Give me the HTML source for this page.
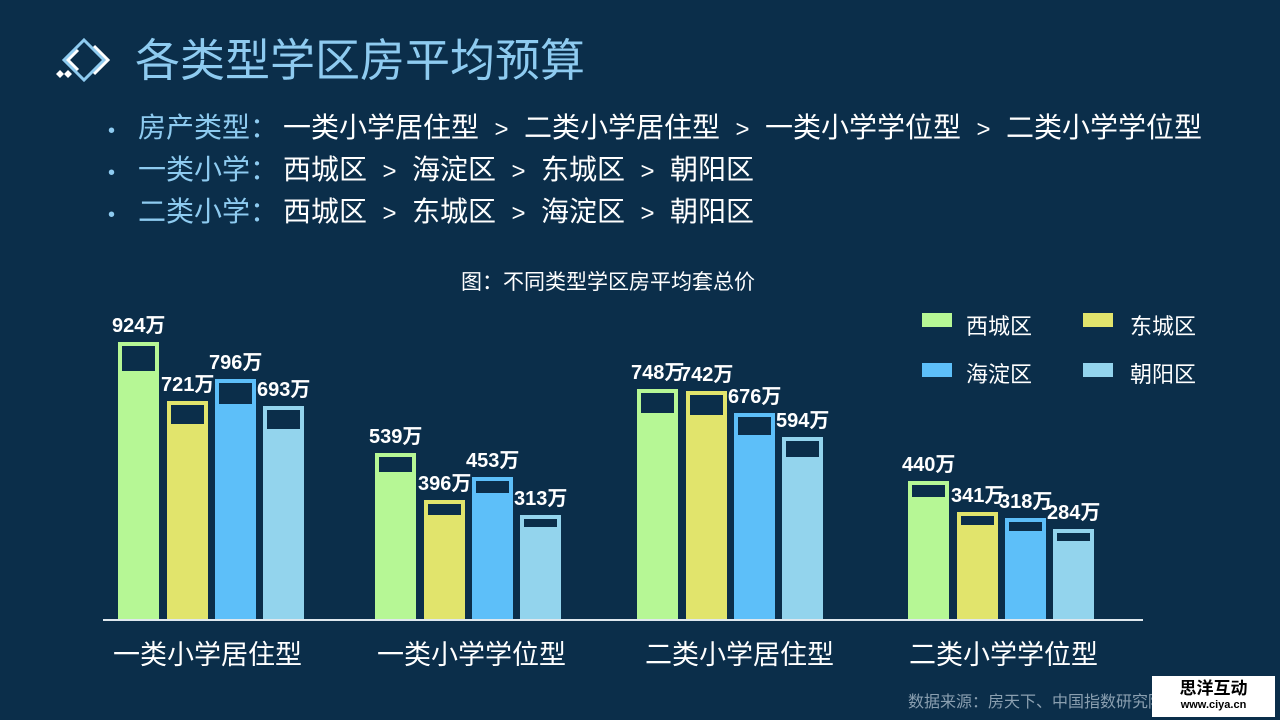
<!DOCTYPE html>
<html><head><meta charset="utf-8"><style>
body{margin:0;width:1280px;height:720px;background:#0b2e4a;overflow:hidden;position:relative;font-family:"Liberation Sans","Noto Sans CJK SC",sans-serif;color:#fff}
.a{position:absolute;white-space:nowrap}
.t{font-size:45px;color:#8ecbf0;left:135px;top:24px}
.b{font-size:28px;left:0}
.b .bl{position:absolute;left:108px;top:14px;font-size:20px;color:#8ecbf0}
.b .lb{position:absolute;left:138px;color:#8ecbf0}
.b .tx{position:absolute;left:283px}
.s{display:inline-block;width:45px;text-align:center;font-size:24px}
.bar{position:absolute}
.in{position:absolute;background:#0b2e4a}
.v{position:absolute;font-weight:bold;font-size:20px;white-space:nowrap}
.c{font-size:27px;top:633px}
.lg{position:absolute;width:30px;height:14px}
.lt{font-size:22px}
</style></head><body>
<svg class="a" style="left:54px;top:36px" width="70" height="46" viewBox="0 0 70 46">
<g fill="none" stroke="#8ecbf0" stroke-width="3">
<path d="M30 4 L50 24 L30 44 L10 24 Z"/>
<path d="M40 10 L54 24 L40 38" stroke="#fff"/>
<path d="M24 14 L14 24 L24 34" stroke="#fff"/>
</g>
<path d="M2 38 L6 34 L10 38 L6 42Z M10 38 L14 34 L18 38 L14 42Z" fill="#fff"/>
</svg>
<div class="a t">各类型学区房平均预算</div>
<div class="a b" style="top:106px"><span class="bl">•</span><span class="lb">房产类型：</span><span class="tx">一类小学居住型<span class="s">&gt;</span>二类小学居住型<span class="s">&gt;</span>一类小学学位型<span class="s">&gt;</span>二类小学学位型</span></div>
<div class="a b" style="top:148px"><span class="bl">•</span><span class="lb">一类小学：</span><span class="tx">西城区<span class="s">&gt;</span>海淀区<span class="s">&gt;</span>东城区<span class="s">&gt;</span>朝阳区</span></div>
<div class="a b" style="top:190px"><span class="bl">•</span><span class="lb">二类小学：</span><span class="tx">西城区<span class="s">&gt;</span>东城区<span class="s">&gt;</span>海淀区<span class="s">&gt;</span>朝阳区</span></div>
<div class="a" style="left:461px;top:266px;font-size:21px">图：不同类型学区房平均套总价</div>
<div class="lg" style="left:922px;top:313px;background:#b6f795"></div><div class="a lt" style="left:966px;top:309px">西城区</div>
<div class="lg" style="left:1083px;top:313px;background:#e1e46c"></div><div class="a lt" style="left:1130px;top:309px">东城区</div>
<div class="lg" style="left:922px;top:363px;background:#5dbff9"></div><div class="a lt" style="left:966px;top:357px">海淀区</div>
<div class="lg" style="left:1083px;top:363px;background:#93d4ed"></div><div class="a lt" style="left:1130px;top:357px">朝阳区</div>
<div id="bars"></div>
<div class="a" style="left:103px;top:619px;width:1040px;height:2px;background:#dfe8ee"></div>
<div class="a c" style="left:113px">一类小学居住型</div>
<div class="a c" style="left:377px">一类小学学位型</div>
<div class="a c" style="left:645px">二类小学居住型</div>
<div class="a c" style="left:909px">二类小学学位型</div>
<div class="a" style="left:908px;top:688px;font-size:16px;color:#8a9fb0">数据来源：房天下、中国指数研究院</div>
<div class="a" style="left:1152px;top:676px;width:123px;height:41px;background:#fff;color:#000;text-align:center">
<div style="font-size:17px;font-weight:bold;line-height:20px;margin-top:3px">思洋互动</div>
<div style="font-size:11px;font-weight:bold;line-height:13px">www.ciya.cn</div></div>
<script>
var cols=['#b6f795','#e1e46c','#5dbff9','#93d4ed'];
var data=[[118,[342,401,379,406],[924,721,796,693]],[375,[453,500,477,515],[539,396,453,313]],[637,[389,391,413,437],[748,742,676,594]],[908,[481,512,518,529],[440,341,318,284]]];
var offs=[0,49,97,145],h='';
data.forEach(function(g){for(var i=0;i<4;i++){var x=g[0]+offs[i],top=g[1][i],v=g[2][i],ih=Math.round(v*0.027);
h+='<div class="bar" style="left:'+x+'px;top:'+top+'px;width:41px;height:'+(620-top)+'px;background:'+cols[i]+'"><div class="in" style="height:'+ih+'px;top:4px;left:4px;right:4px"></div></div>';
h+='<div class="v" style="left:'+(x-6)+'px;top:'+(top-33)+'px">'+v+'万</div>';}});
document.getElementById('bars').innerHTML=h;
</script>
</body></html>
